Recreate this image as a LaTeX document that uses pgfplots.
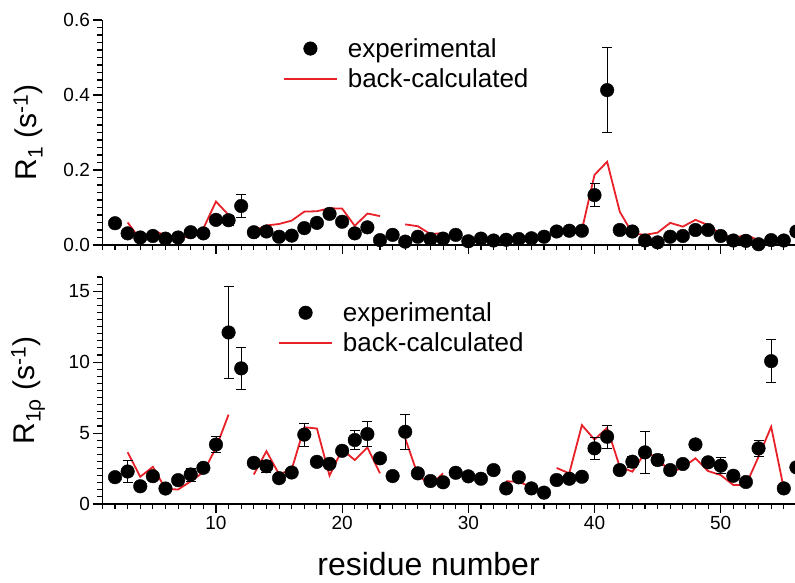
\documentclass[border=0pt]{standalone}
\usepackage{fontspec}
\setmainfont{Liberation Sans}
\usepackage{pgfplots}
\pgfplotsset{compat=1.18}
\definecolor{redl}{RGB}{232,32,40}

\pgfplotsset{
  mypanel/.style={
    scale only axis,
    width=694bp,
    xmin=1, xmax=56,
    clip=false,
    axis x line*=bottom,
    axis y line*=left,
    tick align=outside,
    major tick length=9bp,
    minor tick length=5bp,
    tick style={draw=none},
    axis line style={line width=1.3bp, black},
    xtick={10,20,30,40,50},
    unbounded coords=jump,
    /pgf/number format/assume math mode=true,
    tick label style={font=\fontsize{19bp}{22bp}\selectfont},
    legend cell align=left,
    legend style={draw=none, fill=none, inner sep=0pt,
      font=\fontsize{26bp}{30bp}\selectfont,
      row sep=6bp,
      /tikz/every odd column/.append style={column sep=8bp}},
    legend image code/.code={\draw[mark repeat=2,mark phase=2,##1] plot coordinates {(0bp,0bp) (26.5bp,0bp) (53bp,0bp)};},
    ylabel style={at={(axis description cs:-0.107,0.5)}, rotate=0, anchor=center,
      font=\fontsize{30bp}{34bp}\selectfont},
    xlabel style={at={(axis description cs:0.47,-0.317)}, anchor=base, inner sep=0pt,
      font=\fontsize{32bp}{36bp}\selectfont},
  },
  mydots/.style={only marks, mark=*, mark size=6.8bp, black,
    error bars/.cd, y dir=both, y explicit,
    error bar style={black, line width=0.8bp},
    error mark options={rotate=90, mark size=5bp, black, line width=0.8bp}},
  mycalc/.style={redl, line width=1.8bp, no marks},
}

\begin{document}
\begin{tikzpicture}
\begin{axis}[mypanel,
  at={(102.4bp,338bp)}, anchor=south west,
  height=225bp,
  ymin=0, ymax=0.6,
  ytick={0,0.2,0.4,0.6},
  xticklabels={},
  yticklabel style={/pgf/number format/.cd, fixed, fixed zerofill, precision=1},
  ylabel={R\textsubscript{1} (s\textsuperscript{-1})},
  legend style={at={(axis description cs:0.26,0.928)}, anchor=north west},
]
\addplot[mycalc, forget plot] table[x=x,y=y] {
x y
3 0.060
4 0.015
5 0.040
6 0.025
7 0.020
8 0.021
9 0.044
10 0.116
11 0.080
12 nan
13 0.038
14 0.052
15 0.056
16 0.065
17 0.089
18 0.090
19 0.098
20 0.097
21 0.051
22 0.084
23 0.077
24 nan
25 0.055
26 0.050
27 0.029
28 0.032
29 nan
33 0.013
34 0.011
35 0.025
36 nan
37 0.033
38 0.036
39 0.040
40 0.187
41 0.222
42 0.089
43 0.031
44 0.027
45 0.033
46 0.059
47 0.049
48 0.067
49 0.053
50 0.029
51 0.018
52 0.027
53 0.013
54 0.008
55 0.027
};
\addplot[mydots] table[x=x,y=y,y error=e] {
x y e
2 0.058 0
3 0.031 0
4 0.020 0
5 0.024 0
6 0.017 0
7 0.020 0
8 0.034 0
9 0.031 0
10 0.067 0
11 0.066 0.014
12 0.104 0.030
13 0.034 0
14 0.036 0
15 0.022 0
16 0.025 0
17 0.045 0
18 0.059 0
19 0.083 0
20 0.062 0
21 0.031 0
22 0.047 0.010
23 0.013 0
24 0.027 0
25 0.009 0
26 0.022 0
27 0.016 0
28 0.017 0
29 0.027 0
30 0.010 0
31 0.017 0
32 0.012 0
33 0.014 0
34 0.016 0
35 0.018 0
36 0.022 0
37 0.036 0
38 0.038 0
39 0.038 0
40 0.133 0.030
41 0.413 0.113
42 0.040 0
43 0.036 0
44 0.012 0
45 0.007 0
46 0.022 0
47 0.024 0
48 0.040 0
49 0.040 0
50 0.024 0
51 0.012 0
52 0.011 0
53 0.002 0
54 0.013 0
55 0.012 0
56 0.036 0
};
\addlegendentry{experimental}
\addlegendimage{mycalc}
\addlegendentry{back-calculated}
\end{axis}

\begin{axis}[mypanel,
  at={(102.4bp,79bp)}, anchor=south west,
  height=227bp,
  ymin=0, ymax=16,
  ytick={0,5,10,15},
  ylabel={R\textsubscript{1ρ} (s\textsuperscript{-1})},
  xlabel={residue number},
  legend style={at={(axis description cs:0.253,0.897)}, anchor=north west},
]
\addplot[mycalc, forget plot] table[x=x,y=y] {
x y
3 3.65
4 1.92
5 2.62
6 1.07
7 1.02
8 1.60
9 2.24
10 3.96
11 6.30
12 nan
13 2.08
14 3.72
15 2.10
16 2.43
17 5.41
18 5.32
19 2.00
20 3.84
21 3.10
22 3.99
23 2.16
24 nan
25 4.62
26 2.04
27 1.34
28 2.16
29 nan
33 1.60
34 1.57
35 1.18
36 nan
37 2.54
38 2.16
39 5.56
40 4.54
41 5.37
42 2.63
43 2.28
44 3.61
45 3.28
46 2.20
47 2.58
48 3.22
49 2.32
50 2.04
51 1.34
52 1.34
53 3.33
54 5.44
55 1.10
};
\addplot[mydots] table[x=x,y=y,y error=e] {
x y e
2 1.89 0
3 2.29 0.78
4 1.25 0
5 1.96 0
6 1.09 0
7 1.68 0
8 2.08 0.46
9 2.55 0
10 4.19 0.56
11 12.09 3.25
12 9.56 1.46
13 2.90 0
14 2.66 0.40
15 1.82 0
16 2.22 0
17 4.89 0.82
18 2.97 0.30
19 2.83 0
20 3.75 0
21 4.51 0.65
22 4.93 0.88
23 3.22 0
24 1.97 0
25 5.09 1.23
26 2.16 0
27 1.62 0
28 1.53 0
29 2.20 0
30 1.95 0
31 1.78 0
32 2.39 0
33 1.10 0
34 1.88 0
35 1.10 0
36 0.80 0
37 1.69 0
38 1.78 0
39 1.92 0
40 3.92 0.78
41 4.74 0.80
42 2.39 0
43 2.98 0.40
44 3.64 1.47
45 3.10 0.40
46 2.39 0
47 2.82 0
48 4.20 0.30
49 2.94 0
50 2.70 0.57
51 1.99 0
52 1.55 0
53 3.92 0.59
54 10.07 1.50
55 1.10 0
56 2.58 0
};
\addlegendentry{experimental}
\addlegendimage{mycalc}
\addlegendentry{back-calculated}
\end{axis}

% axis tick marks (decoration only)
\begin{scope}[line width=1.1bp, black]
\foreach \i in {1,...,56} {
  \draw (102.4bp+\i*12.61818bp-12.61818bp, 338bp) -- ++(0bp,-5bp);
  \draw (102.4bp+\i*12.61818bp-12.61818bp, 79bp) -- ++(0bp,-5bp);
}
\foreach \i in {10,20,30,40,50} {
  \draw (102.4bp+\i*12.61818bp-12.61818bp, 338bp) -- ++(0bp,-9bp);
  \draw (102.4bp+\i*12.61818bp-12.61818bp, 79bp) -- ++(0bp,-9bp);
}
\foreach \j in {0,...,30} {
  \draw (102.4bp, 338bp+\j*7.5bp) -- ++(-5bp,0bp);
}
\foreach \j in {0,...,3} {
  \draw (102.4bp, 338bp+\j*75bp) -- ++(-9bp,0bp);
}
\foreach \j in {0,...,32} {
  \draw (102.4bp, 79bp+\j*7.09375bp) -- ++(-5bp,0bp);
}
\foreach \j in {0,...,3} {
  \draw (102.4bp, 79bp+\j*70.9375bp) -- ++(-9bp,0bp);
}
\end{scope}
\pgfresetboundingbox
\path (0bp,0bp) rectangle (795bp,583bp);
\end{tikzpicture}
\end{document}
